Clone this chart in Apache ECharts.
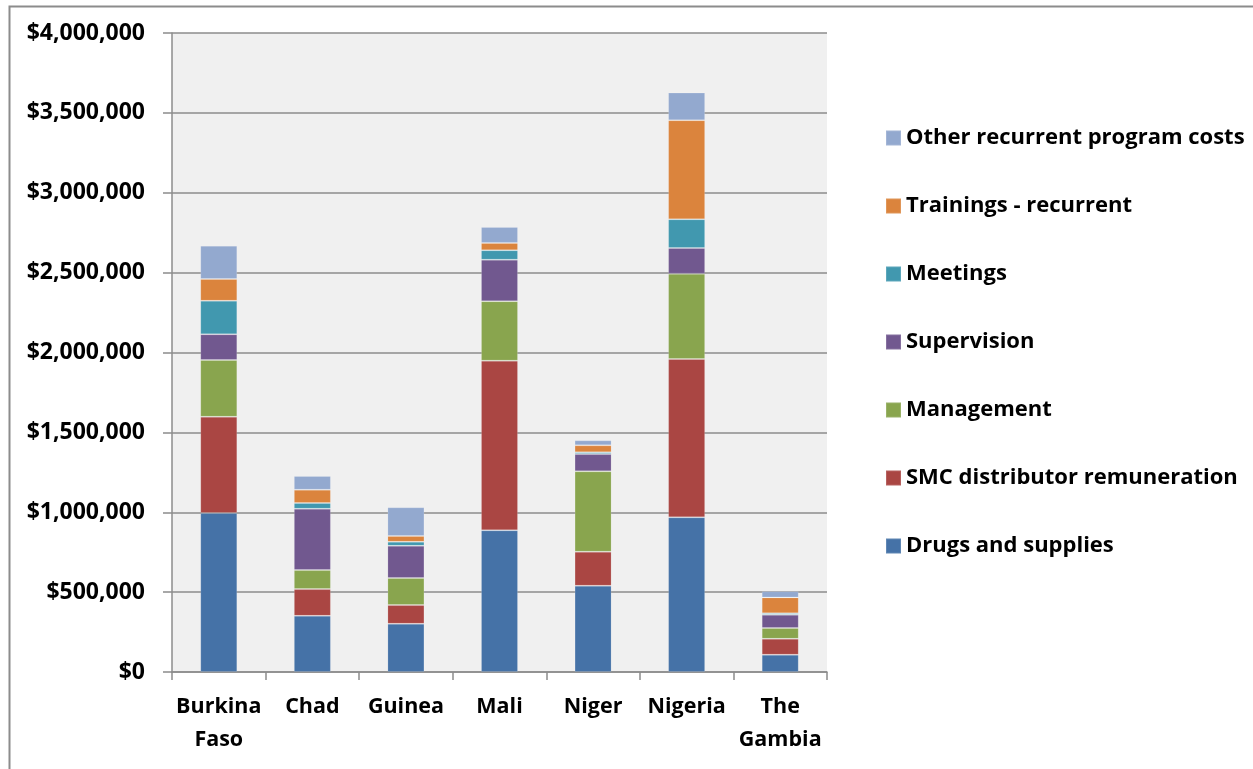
<!DOCTYPE html>
<html>
<head>
<meta charset="utf-8">
<script src="https://cdn.jsdelivr.net/npm/echarts@6/dist/echarts.min.js"></script>
<style>
  html, body { margin: 0; padding: 0; background: #fff; }
  #main { width: 1253px; height: 769px; }
</style>
</head>
<body>
<div id="main"></div>
<script>
var countries = ["Burkina\nFaso", "Chad", "Guinea", "Mali", "Niger", "Nigeria", "The\nGambia"];

var drugs = [995000, 352000, 302000, 887000, 540000, 968000, 108000];
var smcRemuneration = [603000, 167000, 117000, 1062000, 213000, 991000, 100000];
var management = [355000, 119000, 169000, 372000, 503000, 534000, 67000];
var supervision = [161000, 384000, 202000, 260000, 108000, 161000, 83000];
var meetings = [210000, 36000, 25000, 59000, 11000, 180000, 9000];
var trainings = [136000, 83000, 36000, 46000, 44000, 620000, 100000];
var otherCosts = [208000, 86000, 180000, 100000, 31000, 173000, 39000];

var seriesNames = [
  "Drugs and supplies",
  "SMC distributor remuneration",
  "Management",
  "Supervision",
  "Meetings",
  "Trainings - recurrent",
  "Other recurrent program costs"
];
var seriesData = [drugs, smcRemuneration, management, supervision, meetings, trainings, otherCosts];
var colors = ["#4572A7", "#AA4643", "#89A54E", "#71588F", "#4198AF", "#DB843D", "#93A9CF"];

var fontFamily = "'Open Sans', sans-serif";

var chart = echarts.init(document.getElementById("main"));

var series = [];
for (var i = 0; i < seriesNames.length; i++) {
  series.push({
    name: seriesNames[i],
    type: "bar",
    stack: "total",
    barWidth: 37,
    itemStyle: {
      color: colors[i],
      borderColor: "rgba(255,255,255,0.15)",
      borderWidth: 1
    },
    data: seriesData[i]
  });
}

function money(v) {
  return "$" + String(v).replace(/\B(?=(\d{3})+(?!\d))/g, ",");
}

var option = {
  animation: false,
  color: colors,
  graphic: [
    {
      type: "rect",
      left: 7,
      top: 4,
      shape: { width: 1300, height: 800 },
      style: { fill: "none", stroke: "#8c8c8c", lineWidth: 2 },
      silent: true
    }
  ],
  grid: {
    left: 172,
    right: 426,
    top: 33,
    bottom: 97,
    show: true,
    backgroundColor: "#F0F0F0",
    borderWidth: 0
  },
  legend: {
    orient: "vertical",
    left: 880,
    top: 122,
    itemWidth: 15,
    itemHeight: 15,
    itemGap: 46,
    icon: "rect",
    data: seriesNames.slice().reverse(),
    textStyle: {
      fontFamily: fontFamily,
      fontWeight: "bold",
      fontSize: 22,
      lineHeight: 20,
      color: "#000"
    }
  },
  xAxis: {
    type: "category",
    data: countries,
    axisLine: { lineStyle: { color: "#8c8c8c", width: 1.5 } },
    axisTick: { show: true, length: 8, lineStyle: { color: "#8c8c8c", width: 1.5 } },
    axisLabel: {
      interval: 0,
      fontFamily: fontFamily,
      fontWeight: "bold",
      fontSize: 21.5,
      lineHeight: 33,
      margin: 18,
      color: "#000"
    }
  },
  yAxis: {
    type: "value",
    min: 0,
    max: 4000000,
    interval: 500000,
    axisLine: { show: true, lineStyle: { color: "#8c8c8c", width: 1.5 } },
    axisTick: { show: true, length: 9, lineStyle: { color: "#8c8c8c", width: 1.5 } },
    splitLine: { lineStyle: { color: "#8c8c8c", width: 1.5 } },
    axisLabel: {
      fontFamily: fontFamily,
      fontWeight: "bold",
      fontSize: 23,
      margin: 27,
      color: "#000",
      formatter: money
    }
  },
  series: series
};

chart.setOption(option);
window.onresize = chart.resize;
</script>
</body>
</html>
